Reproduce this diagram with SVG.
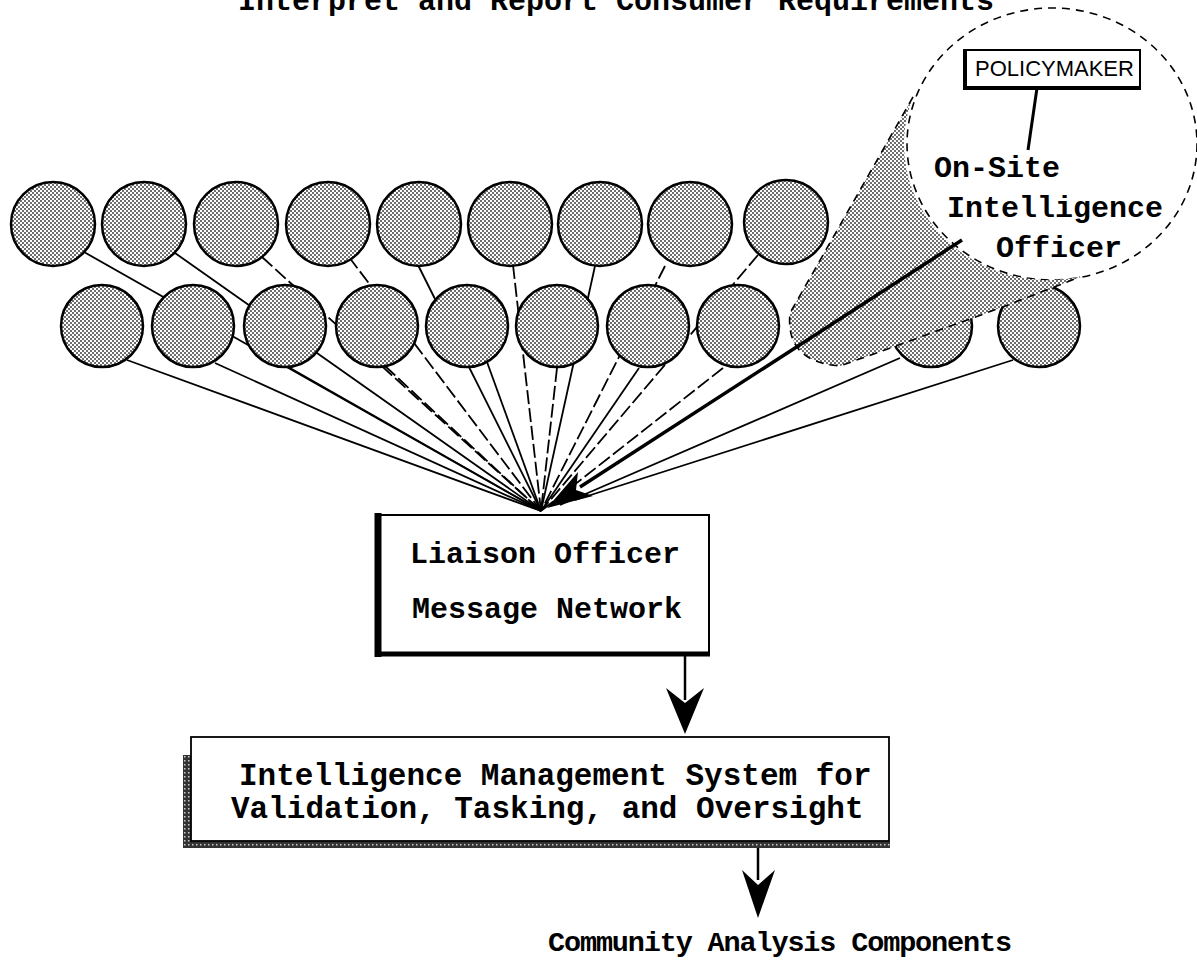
<svg xmlns="http://www.w3.org/2000/svg" width="1197" height="971" viewBox="0 0 1197 971">
<defs>
<pattern id="dots" width="4" height="4" patternUnits="userSpaceOnUse"><rect width="4" height="4" fill="#fff"/><rect width="2" height="2" fill="#6e6e6e"/><rect x="2" y="2" width="2" height="2" fill="#6e6e6e"/></pattern>
<pattern id="hatch" width="4" height="4" patternUnits="userSpaceOnUse"><rect width="4" height="4" fill="#333"/><rect width="1.5" height="1.5" fill="#ccc"/></pattern>
<style>
.t{font-family:"Liberation Mono","Courier New",monospace;font-weight:bold;font-size:30px;fill:#000}
.c{fill:url(#dots);stroke:#000;stroke-width:2.5}
.ln{stroke:#000;stroke-width:1.8;fill:none}
.dash{stroke-dasharray:14 4}
.bub{stroke:#000;stroke-width:1.6;stroke-dasharray:8 6;fill:none}
</style>
</defs>
<rect width="1197" height="971" fill="#fff"/>
<text class="t" x="238" y="10">Interpret and Report Consumer Requirements</text>

<g id="connectors">
<line class="ln" x1="84" y1="252" x2="541" y2="511"/>
<line class="ln" x1="175" y1="253" x2="541" y2="511"/>
<line class="ln dash" x1="262" y1="257" x2="541" y2="511"/>
<line class="ln dash" x1="349" y1="257" x2="541" y2="511"/>
<line class="ln" x1="418" y1="265" x2="541" y2="511"/>
<line class="ln dash" x1="513" y1="265" x2="541" y2="511"/>
<line class="ln" x1="595" y1="266" x2="541" y2="511"/>
<line class="ln dash" x1="665" y1="266" x2="541" y2="511"/>
<line class="ln dash" x1="758" y1="255" x2="541" y2="511"/>
<line class="ln" x1="127" y1="360" x2="541" y2="511"/>
<line class="ln" x1="215" y1="363" x2="541" y2="511"/>
<line class="ln" x1="290" y1="368" x2="541" y2="511"/>
<line class="ln dash" x1="385" y1="366" x2="541" y2="511"/>
<line class="ln" x1="487" y1="362" x2="541" y2="511"/>
<line class="ln dash" x1="557" y1="368" x2="541" y2="511"/>
<line class="ln" x1="639" y1="368" x2="541" y2="511"/>
<line class="ln dash" x1="723" y1="368" x2="541" y2="511"/>
<line class="ln" x1="900" y1="358" x2="560" y2="505"/>
<line class="ln" x1="1013" y1="360" x2="575" y2="500"/>
</g>

<g id="consumers">
<circle class="c" cx="53" cy="224" r="42"/>
<circle class="c" cx="144" cy="224" r="42"/>
<circle class="c" cx="236" cy="224" r="42"/>
<circle class="c" cx="328" cy="224" r="42"/>
<circle class="c" cx="419" cy="224" r="42"/>
<circle class="c" cx="510" cy="224" r="42"/>
<circle class="c" cx="600" cy="224" r="42"/>
<circle class="c" cx="690" cy="224" r="42"/>
<circle class="c" cx="786" cy="222" r="42"/>
<circle class="c" cx="102" cy="326" r="41"/>
<circle class="c" cx="193" cy="326" r="41"/>
<circle class="c" cx="285" cy="326" r="41"/>
<circle class="c" cx="377" cy="326" r="41"/>
<circle class="c" cx="467" cy="326" r="41"/>
<circle class="c" cx="557" cy="326" r="41"/>
<circle class="c" cx="648" cy="326" r="41"/>
<circle class="c" cx="738" cy="326" r="41"/>
<circle class="c" cx="931" cy="326" r="41"/>
<circle class="c" cx="1039" cy="326" r="41"/>
</g>

<g id="onsite-officer">
<ellipse cx="1052" cy="144" rx="145" ry="136" fill="#fff" class="bub"/>
<path d="M913,97 L790,313 Q785,362 840,366 L893,347 L1000,308 L1080,277 A145 136 0 0 1 913,97 Z" fill="url(#dots)" stroke="none"/>
<path d="M913,97 L790,313 Q785,362 840,366 L893,347 L1000,308 L1080,277" class="bub"/>
<text class="t" x="934" y="177">On-Site</text>
<text class="t" x="947" y="217">Intelligence</text>
<text class="t" x="996" y="257">Officer</text>
<line x1="962" y1="240" x2="580" y2="487" stroke="#000" stroke-width="3.5"/>
<path d="M547,508 L578,472 L576,490 L593,496 Z" fill="#000"/>
</g>

<g id="policymaker">
<line x1="1037" y1="88" x2="1028" y2="150" stroke="#000" stroke-width="3"/>
<rect x="964" y="50" width="176" height="37" fill="#fff" stroke="#000" stroke-width="2"/>
<line x1="965" y1="49" x2="965" y2="90" stroke="#000" stroke-width="4"/>
<line x1="963" y1="88" x2="1141" y2="88" stroke="#000" stroke-width="4"/>
<text x="975" y="76" font-family="Liberation Sans, Arial, sans-serif" font-size="22">POLICYMAKER</text>
</g>

<g id="liaison">
<rect x="378" y="515" width="331" height="139" fill="#fff" stroke="#000" stroke-width="2"/>
<line x1="378" y1="513" x2="378" y2="657" stroke="#000" stroke-width="7"/>
<line x1="375" y1="654" x2="710" y2="654" stroke="#000" stroke-width="5"/>
<text class="t" x="410" y="563">Liaison Officer</text>
<text class="t" x="412" y="618">Message Network</text>
</g>

<g id="arrows">
<line x1="685" y1="656" x2="685" y2="700" stroke="#000" stroke-width="2.5"/>
<path d="M685,734 L666,688 L685,703 L704,688 Z" fill="#000"/>
<line x1="758" y1="845" x2="758" y2="880" stroke="#000" stroke-width="2.5"/>
<path d="M758,918 L742,870 L758,885 L775,870 Z" fill="#000"/>
</g>

<g id="ims">
<rect x="183" y="755" width="9" height="93" fill="url(#hatch)"/>
<rect x="183" y="841" width="707" height="7" fill="url(#hatch)"/>
<rect x="191" y="737" width="698" height="104" fill="#fff" stroke="#000" stroke-width="1.8"/>
<text class="t" x="239" y="785" style="font-size:31px">Intelligence Management System for</text>
<text class="t" x="231" y="818" style="font-size:31px">Validation, Tasking, and Oversight</text>
</g>

<text class="t" x="548" y="951" style="font-size:28.5px" textLength="464" lengthAdjust="spacing">Community Analysis Components</text>
</svg>
